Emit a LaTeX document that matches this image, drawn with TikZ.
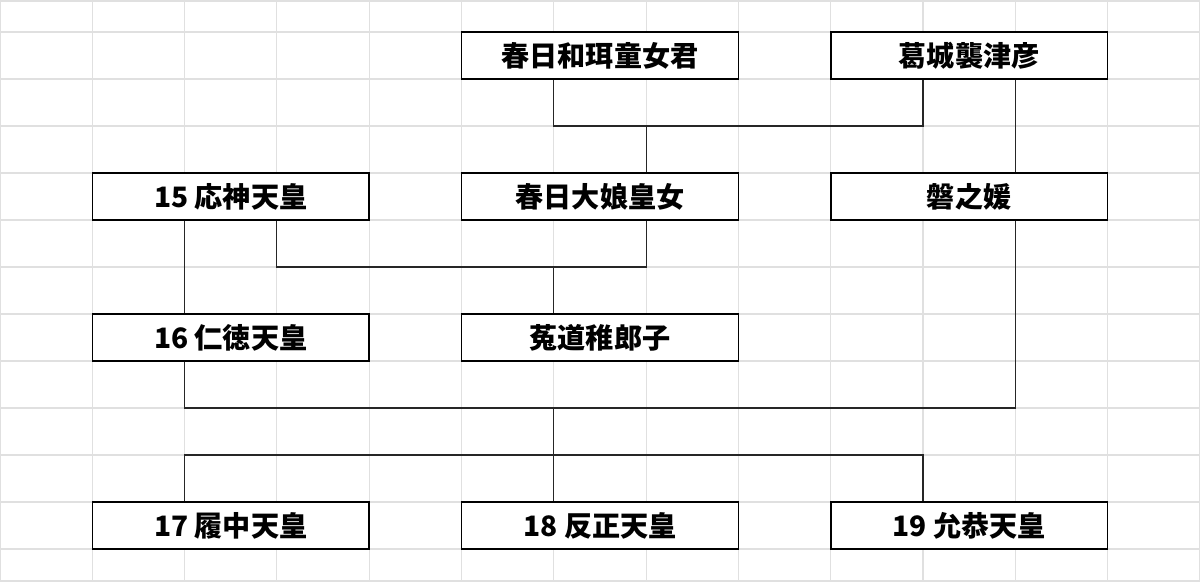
\documentclass[tikz,border=0pt]{standalone}
\usepackage{fontspec}
\newfontfamily\jpfont{Noto Sans CJK JP}
\tikzset{
	person/.style={draw=black,line width=0.9pt,fill=white,minimum width=5.538cm,minimum height=0.94cm,inner sep=0pt,font=\jpfont\bfseries\fontsize{16}{18}\selectfont},
	link/.style={draw=black!85,line width=0.6pt},
	gridline/.style={draw=black!12,line width=0.6pt}
}
\begin{document}
\begin{tikzpicture}
	\useasboundingbox (0,0) rectangle (24,11.64);
	% sheet grid
	\foreach \x in {0,...,13}
		\draw[gridline] (\x*1.846,0) -- (\x*1.846,11.64);
	\foreach \y in {0,...,11}
		\draw[gridline] (0,0.66+\y*0.94) -- (24,0.66+\y*0.94);
	\draw[gridline] (0,0.02) -- (24,0.02);
	\draw[gridline] (0,11.62) -- (24,11.62);
	% people
	\node[person] (wani) at (12.0,10.53) {春日和珥童女君};
	\node[person] (sotsuhiko) at (19.383,10.53) {葛城襲津彦};
	\node[person] (ojin) at (4.615,7.71) {15 応神天皇};
	\node[person] (oiratsume) at (12.0,7.71) {春日大娘皇女};
	\node[person] (iwanohime) at (19.383,7.71) {磐之媛};
	\node[person] (nintoku) at (4.615,4.89) {16 仁徳天皇};
	\node[person] (uji) at (12.0,4.89) {菟道稚郎子};
	\node[person] (richu) at (4.615,1.13) {17 履中天皇};
	\node[person] (hanzei) at (12.0,1.13) {18 反正天皇};
	\node[person] (ingyo) at (19.383,1.13) {19 允恭天皇};
	% junctions
	\coordinate (j1) at (11.076,9.12);
	\coordinate (j2) at (18.46,9.12);
	\coordinate (j3) at (12.922,9.12);
	\coordinate (j4) at (20.306,9.12);
	\coordinate (j5) at (3.692,6.3);
	\coordinate (j6) at (5.538,6.3);
	\coordinate (j7) at (12.922,6.3);
	\coordinate (j8) at (11.076,6.3);
	\coordinate (j9) at (3.692,3.48);
	\coordinate (j10) at (20.306,3.48);
	\coordinate (j11) at (11.076,3.48);
	\coordinate (j12) at (3.692,2.54);
	\coordinate (j13) at (18.46,2.54);
	\coordinate (j14) at (11.076,2.54);
	% lines
	\draw[link] (wani.south -| j1) |- (j2) -- (sotsuhiko.south -| j2);
	\draw[link] (j3) -- (oiratsume.north -| j3);
	\draw[link] (sotsuhiko.south -| j4) -- (iwanohime.north -| j4);
	\draw[link] (ojin.south -| j5) -- (nintoku.north -| j5);
	\draw[link] (ojin.south -| j6) |- (j7) -- (oiratsume.south -| j7);
	\draw[link] (j8) -- (uji.north -| j8);
	\draw[link] (nintoku.south -| j9) |- (j10) -- (iwanohime.south -| j10);
	\draw[link] (j11) -- (j14);
	\draw[link] (richu.north -| j12) |- (j13) -- (ingyo.north -| j13);
	\draw[link] (j14) -- (hanzei.north -| j14);
\end{tikzpicture}
\end{document}
